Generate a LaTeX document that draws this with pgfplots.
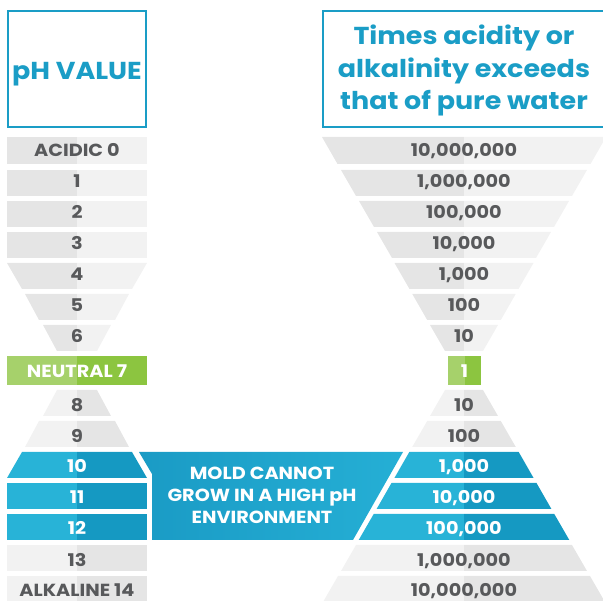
\documentclass[border=0pt]{standalone}
\usepackage{pgfplots}
\pgfplotsset{compat=1.18}
\usepackage{fontspec}
\setmainfont{Poppins}[FakeStretch=1.1]
\definecolor{gd}{HTML}{E5E5E5}
\definecolor{gl}{HTML}{F2F2F2}
\definecolor{cl}{HTML}{28B3D7}
\definecolor{cd}{HTML}{1599C2}
\definecolor{grl}{HTML}{A6D16B}
\definecolor{grd}{HTML}{8CC540}
\definecolor{hdr}{HTML}{1A9DC6}
\definecolor{tx}{HTML}{58595B}
\definecolor{boxl}{HTML}{1A9BC5}
\definecolor{boxr}{HTML}{25AFD5}
\tikzset{
  lbl/.style={anchor=base, inner sep=0pt, text depth=0pt, text=tx, font=\fontsize{17.5}{20}\selectfont\bfseries},
  wl/.style={anchor=base, inner sep=0pt, text depth=0pt, text=white, font=\fontsize{17.5}{20}\selectfont\bfseries},
  hd/.style={anchor=base, inner sep=0pt, text=hdr, font=\fontsize{24.5}{28}\selectfont\bfseries}}
\begin{document}
\begin{tikzpicture}
\begin{axis}[width=603pt, height=601pt, scale only axis, hide axis,
  xmin=0, xmax=603, ymin=0, ymax=601, y dir=reverse,
  every axis plot/.append style={draw=none}]
% full canvas (invisible) to fix picture size
\addplot[draw=none, fill=none] coordinates {(0,0) (603,0) (603,601) (0,601)} -- cycle;
% header boxes
\addplot[draw=hdr, line width=2pt, fill=white] coordinates {(8,11) (146,11) (146,127) (8,127)} -- cycle;
\addplot[draw=hdr, line width=2pt, fill=white] coordinates {(323,11) (606,11) (606,127) (323,127)} -- cycle;
% left column (pH value)
\addplot[fill=gd] coordinates {(7,137) (77,137) (77,164) (7,164)} -- cycle;
\addplot[fill=gl] coordinates {(77,137) (147,137) (147,164) (77,164)} -- cycle;
\addplot[fill=gd] coordinates {(7,170) (77,170) (77,196) (7,196)} -- cycle;
\addplot[fill=gl] coordinates {(77,170) (147,170) (147,196) (77,196)} -- cycle;
\addplot[fill=gd] coordinates {(7,201) (77,201) (77,227) (7,227)} -- cycle;
\addplot[fill=gl] coordinates {(77,201) (147,201) (147,227) (77,227)} -- cycle;
\addplot[fill=gd] coordinates {(7,232) (77,232) (77,258) (7,258)} -- cycle;
\addplot[fill=gl] coordinates {(77,232) (147,232) (147,258) (77,258)} -- cycle;
\addplot[fill=gd] coordinates {(7,263) (77,263) (77,289) (22,289)} -- cycle;
\addplot[fill=gl] coordinates {(77,263) (147,263) (132,289) (77,289)} -- cycle;
\addplot[fill=gd] coordinates {(25,294) (77,294) (77,320) (39,320)} -- cycle;
\addplot[fill=gl] coordinates {(77,294) (129,294) (115,320) (77,320)} -- cycle;
\addplot[fill=gd] coordinates {(43,325) (77,325) (77,351) (57,351)} -- cycle;
\addplot[fill=gl] coordinates {(77,325) (111,325) (97,351) (77,351)} -- cycle;
\addplot[fill=grl] coordinates {(7,356) (77,356) (77,385) (7,385)} -- cycle;
\addplot[fill=grd] coordinates {(77,356) (147,356) (147,385) (77,385)} -- cycle;
\addplot[fill=gl] coordinates {(57,390) (77,390) (77,416) (43,416)} -- cycle;
\addplot[fill=gd] coordinates {(77,390) (97,390) (111,416) (77,416)} -- cycle;
\addplot[fill=gl] coordinates {(39,421) (77,421) (77,447) (25,447)} -- cycle;
\addplot[fill=gd] coordinates {(77,421) (115,421) (129,447) (77,447)} -- cycle;
\addplot[fill=cl] coordinates {(22,452) (77,452) (77,478) (7,478)} -- cycle;
\addplot[fill=cd] coordinates {(77,452) (132,452) (147,478) (77,478)} -- cycle;
\addplot[fill=cl] coordinates {(7,483) (77,483) (77,509) (7,509)} -- cycle;
\addplot[fill=cd] coordinates {(77,483) (147,483) (147,509) (77,509)} -- cycle;
\addplot[fill=cl] coordinates {(7,514) (77,514) (77,540) (7,540)} -- cycle;
\addplot[fill=cd] coordinates {(77,514) (147,514) (147,540) (77,540)} -- cycle;
\addplot[fill=gl] coordinates {(7,545) (77,545) (77,571) (7,571)} -- cycle;
\addplot[fill=gd] coordinates {(77,545) (147,545) (147,571) (77,571)} -- cycle;
\addplot[fill=gl] coordinates {(7,576) (77,576) (77,601) (7,601)} -- cycle;
\addplot[fill=gd] coordinates {(77,576) (147,576) (147,601) (77,601)} -- cycle;
% right column (times)
\addplot[fill=gd] coordinates {(322,137) (464,137) (464,164) (337.5,164)} -- cycle;
\addplot[fill=gl] coordinates {(464,137) (606,137) (590.5,164) (464,164)} -- cycle;
\addplot[fill=gd] coordinates {(341,170) (464,170) (464,196) (356,196)} -- cycle;
\addplot[fill=gl] coordinates {(464,170) (587,170) (572,196) (464,196)} -- cycle;
\addplot[fill=gd] coordinates {(359,201) (464,201) (464,227) (374,227)} -- cycle;
\addplot[fill=gl] coordinates {(464,201) (569,201) (554,227) (464,227)} -- cycle;
\addplot[fill=gd] coordinates {(377,232) (464,232) (464,258) (392,258)} -- cycle;
\addplot[fill=gl] coordinates {(464,232) (551,232) (536,258) (464,258)} -- cycle;
\addplot[fill=gd] coordinates {(394.5,263) (464,263) (464,289) (409.5,289)} -- cycle;
\addplot[fill=gl] coordinates {(464,263) (533.5,263) (518.5,289) (464,289)} -- cycle;
\addplot[fill=gd] coordinates {(412.3,294) (464,294) (464,320) (427.2,320)} -- cycle;
\addplot[fill=gl] coordinates {(464,294) (515.7,294) (500.8,320) (464,320)} -- cycle;
\addplot[fill=gd] coordinates {(430,325) (464,325) (464,351) (445,351)} -- cycle;
\addplot[fill=gl] coordinates {(464,325) (498,325) (483,351) (464,351)} -- cycle;
\addplot[fill=grl] coordinates {(448,356) (464.5,356) (464.5,385) (448,385)} -- cycle;
\addplot[fill=grd] coordinates {(464.5,356) (481,356) (481,385) (464.5,385)} -- cycle;
\addplot[fill=gl] coordinates {(445,390) (464,390) (464,416) (430,416)} -- cycle;
\addplot[fill=gd] coordinates {(464,390) (483,390) (498,416) (464,416)} -- cycle;
\addplot[fill=gl] coordinates {(427.2,421) (464,421) (464,447) (412.2,447)} -- cycle;
\addplot[fill=gd] coordinates {(464,421) (500.8,421) (515.8,447) (464,447)} -- cycle;
\addplot[fill=cl] coordinates {(409.3,452) (464,452) (464,478) (394.4,478)} -- cycle;
\addplot[fill=cd] coordinates {(464,452) (518.7,452) (533.6,478) (464,478)} -- cycle;
\addplot[fill=cl] coordinates {(391.5,483) (464,483) (464,509) (376.6,509)} -- cycle;
\addplot[fill=cd] coordinates {(464,483) (536.5,483) (551.4,509) (464,509)} -- cycle;
\addplot[fill=cl] coordinates {(373.7,514) (464,514) (464,540) (358.7,540)} -- cycle;
\addplot[fill=cd] coordinates {(464,514) (554.3,514) (569.3,540) (464,540)} -- cycle;
\addplot[fill=gl] coordinates {(356,545) (464,545) (464,571) (341,571)} -- cycle;
\addplot[fill=gd] coordinates {(464,545) (572,545) (587,571) (464,571)} -- cycle;
\addplot[fill=gl] coordinates {(338,576) (464,576) (464,601) (323.6,601)} -- cycle;
\addplot[fill=gd] coordinates {(464,576) (590,576) (604.4,601) (464,601)} -- cycle;
% mold box
\addplot[left color=boxl, right color=boxr] coordinates {(139,452) (403,452) (353,540) (152,540) (152,474)} -- cycle;
% header text
\node[hd] at (axis cs:77,80) {pH VALUE};
\node[hd] at (axis cs:464,45) {Times acidity or};
\node[hd] at (axis cs:464,78) {alkalinity exceeds};
\node[hd] at (axis cs:464,110) {that of pure water};
% left labels
\node[lbl] at (axis cs:77,157) {ACIDIC 0};
\node[lbl] at (axis cs:77,188) {1};
\node[lbl] at (axis cs:77,219) {2};
\node[lbl] at (axis cs:77,250) {3};
\node[lbl] at (axis cs:77,281) {4};
\node[lbl] at (axis cs:77,312) {5};
\node[lbl] at (axis cs:77,343) {6};
\node[wl] at (axis cs:77,378) {NEUTRAL 7};
\node[lbl] at (axis cs:77,412) {8};
\node[lbl] at (axis cs:77,443) {9};
\node[wl] at (axis cs:77,473) {10};
\node[wl] at (axis cs:77,504) {11};
\node[wl] at (axis cs:77,535) {12};
\node[lbl] at (axis cs:77,567) {13};
\node[lbl] at (axis cs:77,597) {ALKALINE 14};
% right labels
\node[lbl] at (axis cs:464,157) {10,000,000};
\node[lbl] at (axis cs:464,188) {1,000,000};
\node[lbl] at (axis cs:464,219) {100,000};
\node[lbl] at (axis cs:464,250) {10,000};
\node[lbl] at (axis cs:464,281) {1,000};
\node[lbl] at (axis cs:464,312) {100};
\node[lbl] at (axis cs:464,343) {10};
\node[wl] at (axis cs:464.5,378) {1};
\node[lbl] at (axis cs:464,412) {10};
\node[lbl] at (axis cs:464,443) {100};
\node[wl] at (axis cs:464,473) {1,000};
\node[wl] at (axis cs:464,504) {10,000};
\node[wl] at (axis cs:464,535) {100,000};
\node[lbl] at (axis cs:464,567) {1,000,000};
\node[lbl] at (axis cs:464,597) {10,000,000};
% mold text
\node[wl] at (axis cs:262,480) {MOLD CANNOT};
\node[wl] at (axis cs:262,502) {GROW IN A HIGH pH};
\node[wl] at (axis cs:262,524) {ENVIRONMENT};
\end{axis}
\end{tikzpicture}
\end{document}
